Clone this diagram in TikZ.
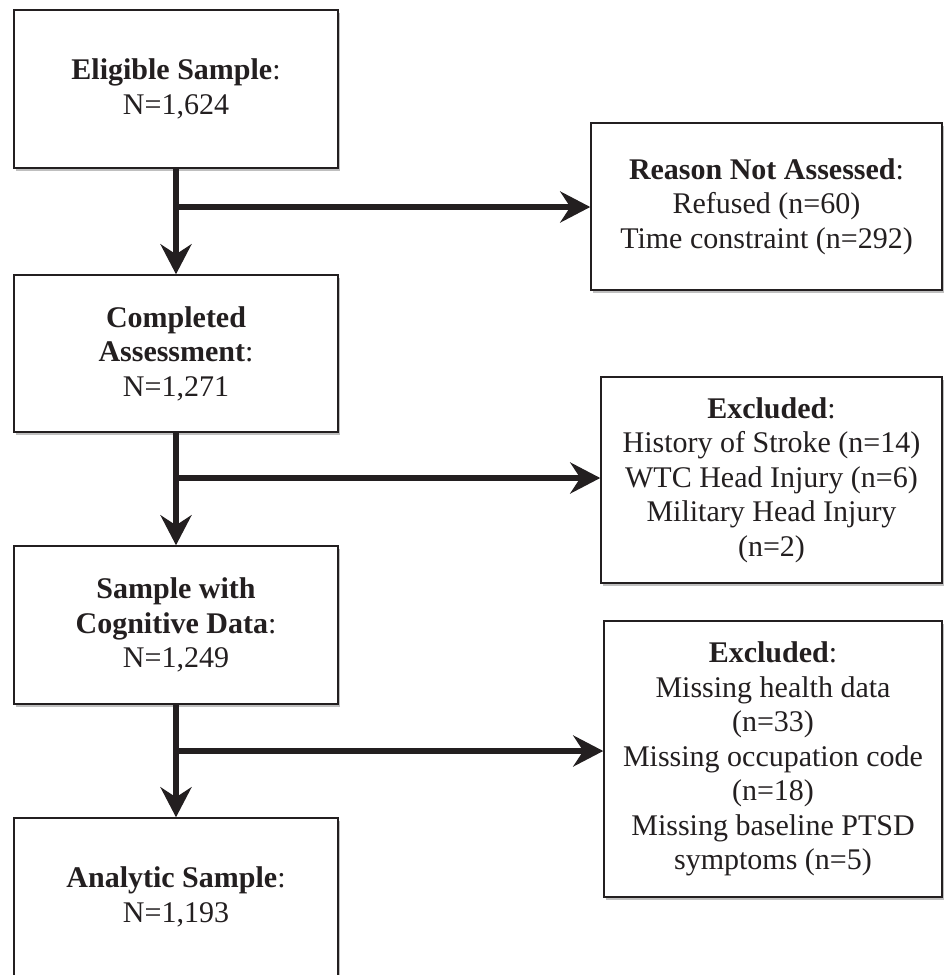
\documentclass[tikz,border=0pt]{standalone}
\usepackage{fontspec}
\setmainfont{Liberation Serif}
\usetikzlibrary{arrows.meta,shadows}
\definecolor{ink}{RGB}{35,31,32}
\tikzset{
  box/.style={rectangle,draw=ink,line width=1.5pt,fill=white,align=center,text=ink,
    font=\fontsize{30}{34.5}\selectfont,inner sep=0pt,
    drop shadow={shadow xshift=2pt,shadow yshift=-3pt,opacity=0.25,fill=black}},
  flow/.style={draw=ink,line width=6pt,-{Stealth[length=30pt,width=31pt,inset=10pt]}}
}
\begin{document}
\begin{tikzpicture}[x=1pt,y=-1pt]
\useasboundingbox (0,0) rectangle (944,975);
\node (e) [box,minimum width=324pt,minimum height=158pt] at (176,89) {\textbf{Eligible Sample}:\\N=1,624};
\node (c) [box,minimum width=324pt,minimum height=157pt] at (176,353.5) {\textbf{Completed}\\\textbf{Assessment}:\\N=1,271};
\node (g) [box,minimum width=324pt,minimum height=158pt] at (176,625) {\textbf{Sample with}\\\textbf{Cognitive Data}:\\N=1,249};
\node (a) [box,minimum width=324pt,minimum height=158pt] at (176,897) {\textbf{Analytic Sample}:\\N=1,193};

\node (r) [box,minimum width=351pt,minimum height=167pt] at (766.5,206.5) {\textbf{Reason Not Assessed}:\\Refused (n=60)\\Time constraint (n=292)};
\node (x1) [box,minimum width=341pt,minimum height=206pt] at (771.5,480) {\textbf{Excluded}:\\History of Stroke (n=14)\\WTC Head Injury (n=6)\\Military Head Injury\\(n=2)};
\node (x2) [box,minimum width=338pt,minimum height=276pt] at (773,759) {\textbf{Excluded}:\\Missing health data\\(n=33)\\Missing occupation code\\(n=18)\\Missing baseline PTSD\\symptoms (n=5)};

\coordinate (j1) at (176,207);
\coordinate (j2) at (176,478);
\coordinate (j3) at (176,751);

\draw [flow] (e)--(c);
\draw [flow] (c)--(g);
\draw [flow] (g)--(a);
\draw [flow] (j1)--(j1 -| r.west);
\draw [flow] (j2)--(j2 -| x1.west);
\draw [flow] (j3)--(j3 -| x2.west);
\end{tikzpicture}
\end{document}
